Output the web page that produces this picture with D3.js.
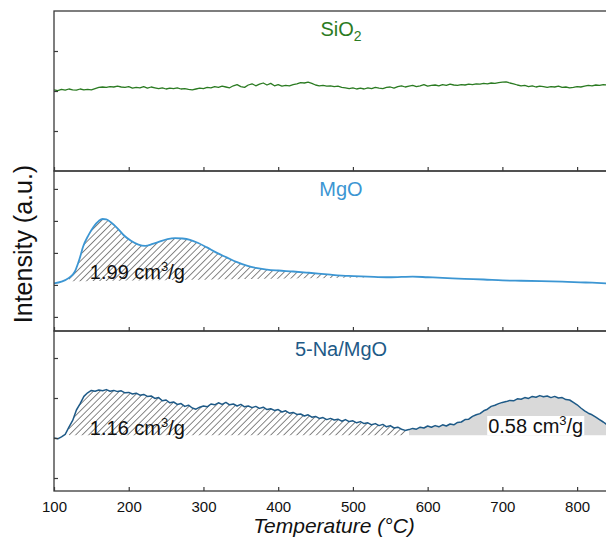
<!DOCTYPE html>
<html>
<head>
<meta charset="utf-8">
<script src="https://cdn.jsdelivr.net/npm/d3@7"></script>
<style>
  body { margin: 0; background: #fff; }
  text { font-family: Arial, "Liberation Sans", sans-serif; }
</style>
</head>
<body>
<div class="canvas"></div>
<script>
// temperature grid of the noisy traces (°C)
const temps = [
  100,105,110,115,120,125,130,135,140,145,150,155,160,165,170,175,180,185,190,195,
  200,205,210,215,220,225,230,235,240,245,250,255,260,265,270,275,280,285,290,295,
  300,305,310,315,320,325,330,335,340,345,350,355,360,365,370,375,380,385,390,395,
  400,405,410,415,420,425,430,435,440,445,450,455,460,465,470,475,480,485,490,495,
  500,505,510,515,520,525,530,535,540,545,550,555,560,565,570,575,580,585,590,595,
  600,605,610,615,620,625,630,635,640,645,650,655,660,665,670,675,680,685,690,695,
  700,705,710,715,720,725,730,735,740,745,750,755,760,765,770,775,780,785,790,795,
  800,805,810,815,820,825,830,835,840
];

// SiO2 signal (a.u.)
const sio2 = [
  2.03,2.01,2.04,2.02,2.05,2.03,2.02,2.05,2.03,2.04,2.03,2.06,2.09,2.10,2.09,2.11,2.10,2.12,2.10,2.09,
  2.11,2.07,2.09,2.08,2.11,2.07,2.10,2.08,2.06,2.08,2.05,2.07,2.06,2.08,2.05,2.06,2.04,2.03,2.05,2.07,
  2.06,2.09,2.08,2.11,2.09,2.12,2.10,2.08,2.13,2.16,2.11,2.09,2.15,2.18,2.13,2.17,2.20,2.15,2.19,2.13,
  2.16,2.12,2.14,2.13,2.16,2.18,2.21,2.20,2.22,2.19,2.15,2.13,2.14,2.12,2.13,2.11,2.12,2.09,2.08,2.06,
  2.08,2.05,2.07,2.05,2.08,2.06,2.09,2.07,2.06,2.09,2.10,2.07,2.11,2.13,2.10,2.12,2.14,2.11,2.13,2.16,
  2.12,2.14,2.15,2.13,2.16,2.14,2.17,2.15,2.14,2.16,2.15,2.17,2.16,2.18,2.17,2.19,2.18,2.20,2.19,2.21,
  2.22,2.23,2.20,2.18,2.15,2.13,2.14,2.11,2.13,2.10,2.12,2.11,2.09,2.11,2.10,2.12,2.09,2.10,2.08,2.09,
  2.11,2.10,2.12,2.14,2.13,2.15,2.14,2.16,2.15
];

// 5-Na/MgO signal (a.u.)
const naMgo = [
  2.00,1.98,2.03,2.09,2.27,2.44,2.70,2.86,3.04,3.13,3.19,3.17,3.20,3.18,3.21,3.17,3.19,3.16,3.18,3.13,
  3.14,3.10,3.12,3.07,3.09,3.04,3.05,2.99,3.01,2.93,2.95,2.88,2.90,2.84,2.86,2.79,2.82,2.75,2.72,2.77,
  2.80,2.78,2.85,2.83,2.88,2.84,2.89,2.83,2.85,2.80,2.84,2.78,2.80,2.76,2.79,2.74,2.77,2.71,2.73,2.69,
  2.71,2.65,2.68,2.62,2.64,2.59,2.60,2.55,2.58,2.52,2.54,2.49,2.51,2.46,2.49,2.45,2.47,2.42,2.46,2.41,
  2.43,2.38,2.41,2.36,2.38,2.33,2.36,2.31,2.34,2.28,2.31,2.25,2.27,2.22,2.19,2.21,2.24,2.22,2.27,2.25,
  2.30,2.27,2.31,2.28,2.33,2.30,2.35,2.33,2.39,2.40,2.46,2.47,2.54,2.58,2.61,2.68,2.72,2.79,2.82,2.86,
  2.89,2.91,2.94,2.93,2.98,2.97,3.01,2.99,3.04,3.02,3.06,3.03,3.05,3.01,3.04,3.00,3.01,2.96,2.95,2.89,
  2.83,2.75,2.68,2.62,2.58,2.52,2.46,2.40,2.33
];

// MgO signal, smooth trace (°C, a.u.)
const mgoTemps = [100,110,120,128,134,139,146,153,160,165,170,176,185,193,203,213,222,232,242,252,
  262,272,282,293,304,318,331,345,358,370,385,400,420,441,470,494,520,545,565,580,600,620,649,675,
  700,725,752,780,804,820,840];
const mgo = [1.55,1.60,1.72,1.92,2.30,2.70,3.05,3.32,3.50,3.56,3.55,3.46,3.27,3.06,2.88,2.76,2.72,2.78,2.86,2.93,
  2.96,2.95,2.91,2.81,2.68,2.50,2.36,2.21,2.10,2.03,1.98,1.95,1.92,1.88,1.82,1.78,1.76,1.74,1.75,1.76,1.74,1.72,1.69,1.67,
  1.64,1.63,1.62,1.60,1.58,1.57,1.55];

// integrated regions: [start °C, end °C], baseline [start, end]
const mgoPeak = [120, 520];
const mgoBase = [1.61, 1.73];
const naLowPeak = [120, 572];
const naHighPeak = [572, 840];
const naBase = [2.07, 2.07];

const xTicks = [100, 200, 300, 400, 500, 600, 700, 800];
const sio2Ticks = [1, 2, 3];
const mgoTicks = [0.5, 1.5, 2.5, 3.5, 4.5];
const naTicks = [1, 2, 3, 4];

const svg = d3.select('.canvas')
  .append('svg')
  .attr('width', 606)
  .attr('height', 542);

const margin = { top: 11, left: 54 };
const panelHeight = 160;
const plotWidth = 553;

const x = d3.scaleLinear()
  .domain([100, 840])
  .range([margin.left, margin.left + plotWidth]);

// hatch pattern for the low temperature peaks
svg.append('defs')
  .append('pattern')
  .attr('id', 'hatch')
  .attr('patternUnits', 'userSpaceOnUse')
  .attr('width', 4.6)
  .attr('height', 4.6)
  .attr('patternTransform', 'rotate(45)')
  .append('line')
  .attr('x1', 2.3).attr('y1', 0)
  .attr('x2', 2.3).attr('y2', 4.6)
  .attr('stroke', '#7a7a7a')
  .attr('stroke-width', 0.9);

const panels = [
  { title: 'SiO', sub: '2', color: '#2b7b22', domain: [0, 4], ticks: sio2Ticks,
    temps: temps, values: sio2, width: 1.3, curve: d3.curveLinear },
  { title: 'MgO', color: '#3c96d3', domain: [0.06, 5.06], ticks: mgoTicks,
    temps: mgoTemps, values: mgo, width: 1.8, curve: d3.curveMonotoneX },
  { title: '5-Na/MgO', color: '#1e5a87', domain: [0.675, 4.675], ticks: naTicks,
    temps: temps, values: naMgo, width: 1.5, curve: d3.curveLinear },
];

panels.forEach((p, i) => {
  const top = margin.top + i * panelHeight;
  const y = d3.scaleLinear().domain(p.domain).range([top + panelHeight, top]);
  const g = svg.append('g');
  const pts = p.temps.map((t, j) => [t, p.values[j]]);

  // shaded areas between trace and baseline
  const addArea = (range, base, fill) => {
    const b = d3.scaleLinear().domain(range).range(base);
    const seg = pts.filter(d => d[0] >= range[0] && d[0] <= range[1]);
    g.append('path')
      .datum(seg)
      .attr('fill', fill)
      .attr('d', d3.area()
        .curve(p.curve)
        .x(d => x(d[0]))
        .y0(d => y(b(d[0])))
        .y1(d => y(d[1])));
  };
  if (i === 1) addArea(mgoPeak, mgoBase, 'url(#hatch)');
  if (i === 2) {
    addArea(naLowPeak, naBase, 'url(#hatch)');
    addArea(naHighPeak, naBase, '#d9d9d9');
  }

  g.append('path')
    .datum(pts)
    .attr('fill', 'none')
    .attr('stroke', p.color)
    .attr('stroke-width', p.width)
    .attr('stroke-linejoin', 'round')
    .attr('d', d3.line().curve(p.curve).x(d => x(d[0])).y(d => y(d[1])));

  // frame and inward ticks
  g.append('rect')
    .attr('x', margin.left).attr('y', top)
    .attr('width', plotWidth + 2).attr('height', panelHeight)
    .attr('fill', 'none')
    .attr('stroke', '#3a3a3a')
    .attr('stroke-width', 1.3);

  const yAxis = g.append('g')
    .attr('transform', `translate(${margin.left}, 0)`)
    .call(d3.axisLeft(y).tickValues(p.ticks).tickSize(-4).tickFormat(''));
  const xAxis = g.append('g')
    .attr('transform', `translate(0, ${top + panelHeight})`)
    .call(d3.axisBottom(x).tickValues(xTicks).tickSize(-4).tickPadding(10)
      .tickFormat(i === 2 ? d3.format('d') : ''));
  [yAxis, xAxis].forEach(a => {
    a.select('.domain').remove();
    a.selectAll('line').attr('stroke', '#3a3a3a').attr('stroke-width', 1.2);
  });
  xAxis.selectAll('text')
    .attr('font-size', 15)
    .attr('font-family', 'Arial, "Liberation Sans", sans-serif')
    .attr('fill', '#111');

  // panel title
  const title = g.append('text')
    .attr('x', 341)
    .attr('y', top + 25)
    .attr('text-anchor', 'middle')
    .attr('font-size', 20)
    .attr('fill', p.color)
    .text(p.title);
  if (p.sub) {
    title.append('tspan').attr('dy', 5).attr('font-size', 14).text(p.sub);
  }

  // integrated amounts
  const amount = (t, v, label, boxed) => {
    const txt = g.append('text')
      .attr('x', x(t))
      .attr('y', y(v))
      .attr('font-size', 20)
      .attr('fill', '#111');
    txt.append('tspan').text(label + ' cm');
    txt.append('tspan').attr('dy', -8).attr('font-size', 13).text('3');
    txt.append('tspan').attr('dy', 8).text('/g');
    if (boxed) {
      const bb = txt.node().getBBox();
      g.insert('rect', () => txt.node())
        .attr('x', bb.x - 1).attr('y', bb.y + 3)
        .attr('width', bb.width + 2).attr('height', y(naBase[0]) - bb.y - 3)
        .attr('fill', '#fff');
    }
  };
  if (i === 1) amount(148, 1.68, '1.99');
  if (i === 2) {
    amount(148, 2.075, '1.16');
    amount(681, 2.125, '0.58', true);
  }
});

// axis titles
svg.append('text')
  .attr('x', 334)
  .attr('y', 533)
  .attr('text-anchor', 'middle')
  .attr('font-size', 21)
  .attr('font-style', 'italic')
  .attr('fill', '#111')
  .text('Temperature (°C)');

svg.append('text')
  .attr('transform', 'translate(32, 244) rotate(-90)')
  .attr('text-anchor', 'middle')
  .attr('font-size', 25)
  .attr('fill', '#111')
  .text('Intensity (a.u.)');
</script>
</body>
</html>
